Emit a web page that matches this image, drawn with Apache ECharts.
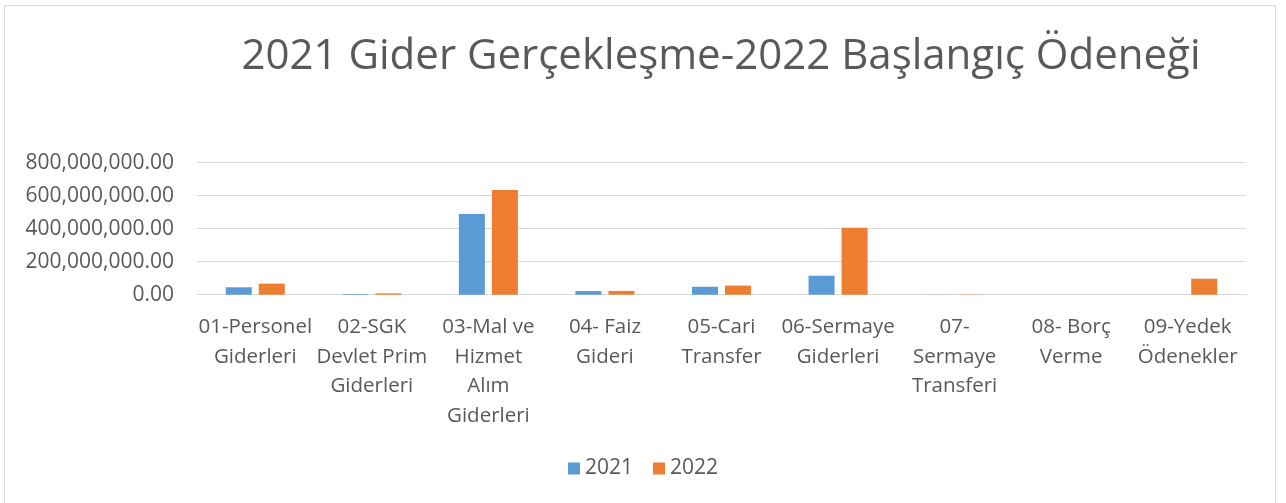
<!DOCTYPE html>
<html>
<head>
<meta charset="utf-8">
<script src="https://cdn.jsdelivr.net/npm/echarts@6/dist/echarts.min.js"></script>
<style>
  html, body { margin: 0; padding: 0; background: #ffffff; overflow: hidden; }
  #frame {
    position: absolute; left: 4px; top: 5px; width: 1272px; height: 520px;
    border: 1px solid #d9d9d9; box-sizing: border-box;
  }
  #chart { position: absolute; left: 0; top: 0; width: 1286px; height: 503px; }
</style>
</head>
<body>
<div id="frame"></div>
<div id="chart"></div>
<script>
// kategoriler ve seriler
const categories = [
  "01-Personel\nGiderleri",
  "02-SGK\nDevlet Prim\nGiderleri",
  "03-Mal ve\nHizmet\nAlım\nGiderleri",
  "04- Faiz\nGideri",
  "05-Cari\nTransfer",
  "06-Sermaye\nGiderleri",
  "07-\nSermaye\nTransferi",
  "08- Borç\nVerme",
  "09-Yedek\nÖdenekler"
];
const values2021 = [45000000, 4000000, 489000000, 22000000, 48000000, 115000000, 1000000, 0, 0];
const values2022 = [67000000, 8000000, 634000000, 23000000, 55000000, 406000000, 1500000, 0, 97000000];
const seriesNames = ["2021", "2022"];
const yTicks = { min: 0, max: 800000000, interval: 200000000 };

const FONT = "'Open Sans', 'Noto Sans', sans-serif";
const TEXT = "#595959";

var myChart = echarts.init(document.getElementById("chart"));

var option = {
  animation: false,
  title: {
    text: "2021 Gider Gerçekleşme-2022 Başlangıç Ödeneği",
    left: 716,
    textAlign: "center",
    top: 31,
    textStyle: { color: TEXT, fontFamily: FONT, fontSize: 42, fontWeight: "normal" }
  },
  legend: {
    data: seriesNames,
    left: "center",
    top: 453,
    itemWidth: 12,
    itemHeight: 12,
    itemGap: 20,
    icon: "rect",
    textStyle: { color: TEXT, fontFamily: FONT, fontSize: 21 }
  },
  grid: { left: 197, right: 40, top: 162.7, bottom: 208.3, containLabel: false },
  xAxis: {
    type: "category",
    data: categories,
    axisLine: { lineStyle: { color: "#d9d9d9", width: 1 } },
    axisTick: { show: false },
    axisLabel: {
      interval: 0,
      margin: 18,
      color: TEXT,
      fontFamily: FONT,
      fontSize: 20.5,
      lineHeight: 29.5
    }
  },
  yAxis: {
    type: "value",
    min: yTicks.min,
    max: yTicks.max,
    interval: yTicks.interval,
    axisLine: { show: false },
    axisTick: { show: false },
    splitLine: { lineStyle: { color: "#d9d9d9", width: 1 } },
    axisLabel: {
      margin: 23,
      color: TEXT,
      fontFamily: FONT,
      fontSize: 21,
      formatter: function (v) {
        return v.toLocaleString("en-US", { minimumFractionDigits: 2, maximumFractionDigits: 2 });
      }
    }
  },
  series: [
    {
      name: seriesNames[0],
      type: "bar",
      data: values2021,
      color: "#5b9bd5",
      barWidth: 26,
      barGap: "27%"
    },
    {
      name: seriesNames[1],
      type: "bar",
      data: values2022,
      color: "#ed7d31",
      barWidth: 26,
      barGap: "27%"
    }
  ]
};
myChart.setOption(option);
</script>
</body>
</html>
